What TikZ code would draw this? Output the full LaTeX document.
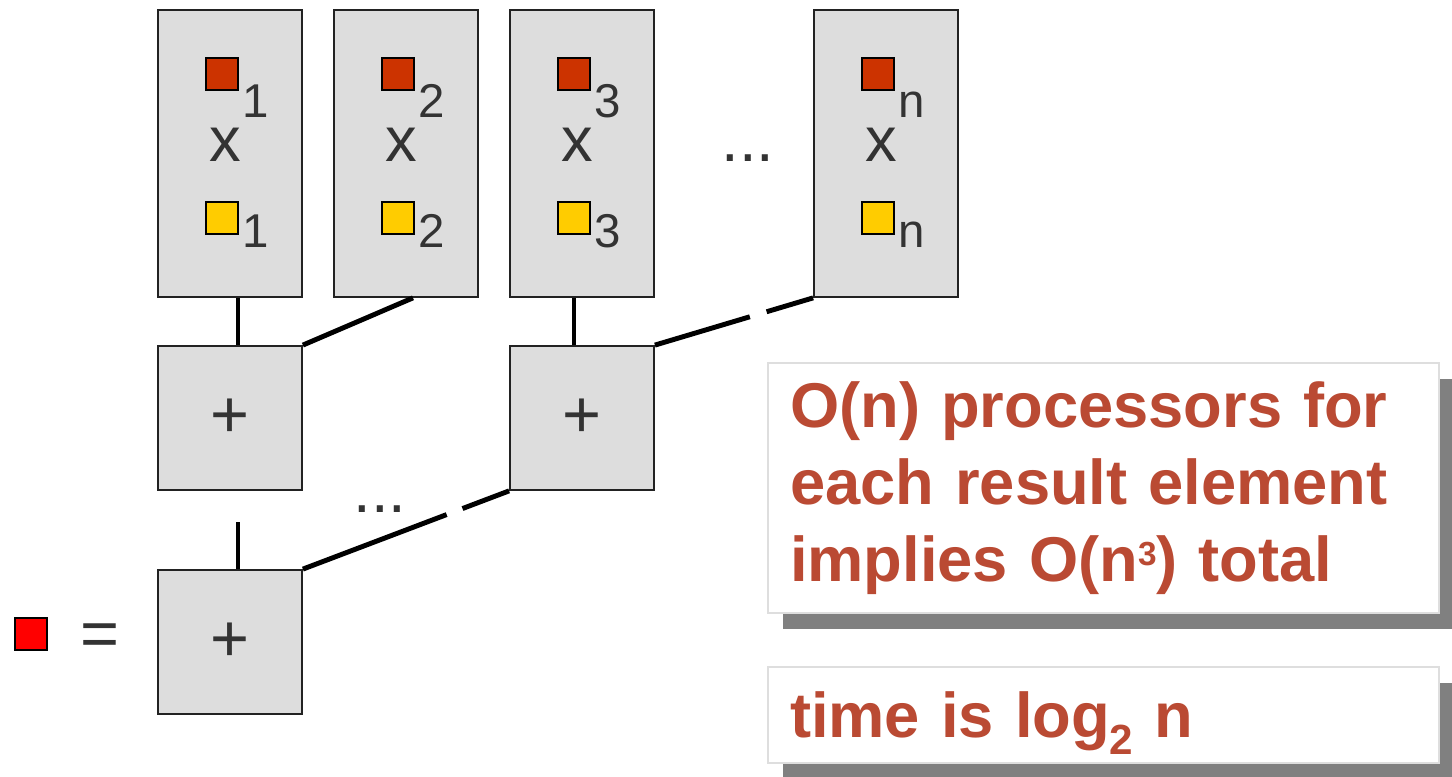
\documentclass[tikz,border=0pt]{standalone}
\usepackage{fontspec}
\setmainfont{Liberation Sans}
\usetikzlibrary{calc}
\usetikzlibrary{shadows}

\definecolor{boxgray}{HTML}{DDDDDD}
\definecolor{boxline}{HTML}{222222}
\definecolor{labelgray}{HTML}{333333}
\definecolor{opred}{HTML}{CC3300}
\definecolor{opyellow}{HTML}{FFCC00}
\definecolor{noteline}{HTML}{DEDEDE}
\definecolor{notetext}{HTML}{BA4A33}
\definecolor{shadowgray}{HTML}{808080}

\tikzset{
    mulbox/.style={draw=boxline,fill=boxgray,line width=0.5pt,
        minimum width=1.44cm,minimum height=2.87cm,inner sep=0pt},
    addbox/.style={draw=boxline,fill=boxgray,line width=0.5pt,
        minimum size=1.44cm,inner sep=0pt,text=labelgray,
        font=\fontsize{19}{19}\selectfont},
    sq/.style={draw=black,line width=0.5pt,minimum size=0.32cm,inner sep=0pt},
    idx/.style={inner sep=0pt,anchor=base west,text=labelgray,
        font=\fontsize{13.5}{13.5}\selectfont},
    big/.style={inner sep=0pt,text=labelgray,font=\fontsize{18}{18}\selectfont},
    wire/.style={line width=1.4pt,black},
    notebox/.style={draw=noteline,fill=white,line width=0.6pt,
        anchor=north west,minimum width=6.71cm,inner xsep=0.22cm,
        text width=6.27cm,align=left,text=notetext,
        font=\fontsize{18}{22}\selectfont\bfseries,
        drop shadow={shadow xshift=0.15cm,shadow yshift=-0.16cm,
            fill=shadowgray,opacity=1}}
}

\begin{document}
\begin{tikzpicture}
    \useasboundingbox (0,0) rectangle (14.52,-7.77);

    % multiply stages
    \begin{scope}[every node/.style={mulbox}]
        \foreach \i/\x in {1/2.30,2/4.06,3/5.82,n/8.86}{
            \node (m\i) at (\x,-1.535) {};
        }
    \end{scope}

    \foreach \i/\x in {1/2.30,2/4.06,3/5.82,n/8.86}{
        \node[sq,fill=opred] (r\i) at (\x-0.08,-0.74) {};
        \node[idx] (ri\i) at (\x+0.115,-1.18) {\i};
        \node[big,anchor=base] (x\i) at (\x-0.05,-1.62) {x};
        \node[sq,fill=opyellow] (y\i) at (\x-0.08,-2.18) {};
        \node[idx] (yi\i) at (\x+0.115,-2.48) {\i};
    }

    \node[big,anchor=base] (dotsm) at (7.48,-1.62) {...};
    \node[big,anchor=base] (dotsa) at (3.80,-5.13) {...};

    % adders
    \node[addbox] (pa) at (2.30,-4.18) {+};
    \node[addbox] (pb) at (5.82,-4.18) {+};
    \node[addbox] (pc) at (2.30,-6.42) {+};

    \node[sq,fill=red] (res) at (0.31,-6.34) {};
    \node[big,font=\fontsize{19}{19}\selectfont] (eq) at (1.00,-6.40) {=};

    % wires
    \draw[wire] ([xshift=0.08cm]m1.south) -- ([xshift=0.08cm]pa.north);
    \draw[wire] ([xshift=0.07cm]m2.south) -- (pa.north east);
    \draw[wire] ([xshift=-0.08cm]m3.south) -- ([xshift=-0.08cm]pb.north);
    \draw[wire] (pb.north east) -- ($(pb.north east)!0.6!(mn.south west)$);
    \draw[wire] ($(pb.north east)!0.706!(mn.south west)$) -- (mn.south west);
    \draw[wire] ([xshift=0.08cm]pc.north) -- ++(0,0.47);
    \draw[wire] (pc.north east) -- ($(pc.north east)!0.697!(pb.south west)$);
    \draw[wire] ($(pc.north east)!0.774!(pb.south west)$) -- (pb.south west);

    % notes
    \node[notebox,minimum height=2.50cm] (t1) at (7.67,-3.62)
        {O(n) processors for each result element implies
         O(n\raisebox{4.6pt}{\fontsize{9.5}{9.5}\selectfont 3}) total};
    \node[notebox,minimum height=0.96cm,text depth=0pt] (t2) at (7.67,-6.66)
        {time is log\raisebox{-4.8pt}[\height][0pt]{\fontsize{12}{12}\selectfont 2} n};
\end{tikzpicture}
\end{document}
